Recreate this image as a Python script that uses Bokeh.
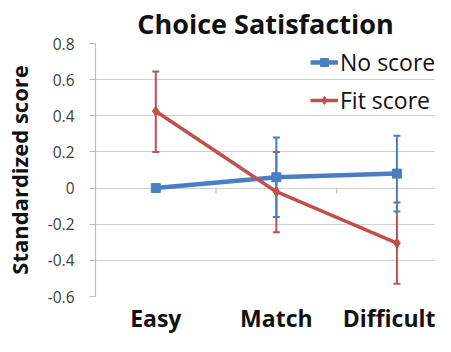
from bokeh.plotting import figure
from bokeh.models import Range1d, FixedTicker, Legend, LegendItem
from bokeh.embed import file_html
from bokeh.resources import INLINE

categories = ["Easy", "Match", "Difficult"]
no_score = [0.0, 0.06, 0.08]
no_score_hi = [0.0, 0.28, 0.29]
no_score_lo = [0.0, -0.16, -0.13]
fit_score = [0.425, -0.02, -0.305]
fit_score_hi = [0.645, 0.20, -0.08]
fit_score_lo = [0.20, -0.245, -0.53]
y_ticks = [-0.6, -0.4, -0.2, 0, 0.2, 0.4, 0.6, 0.8]

BLUE = "#4A7EC2"
RED = "#C0504D"
FONT = "Open Sans"

xs = [i + 0.5 for i in range(len(categories))]

p = figure(width=435, height=336, output_backend="svg", toolbar_location=None,
           x_range=Range1d(0, 2.82), y_range=Range1d(-0.6, 0.8),
           min_border_left=0, min_border_right=0, min_border_top=0, min_border_bottom=0)

p.title.text = "Choice Satisfaction"
p.title.align = "center"
p.title.text_font = FONT
p.title.text_font_size = "27px"
p.title.text_font_style = "bold"
p.title.text_color = "#111111"
p.title.text_line_height = 0.8
p.title.standoff = 4

p.outline_line_color = None
p.xgrid.grid_line_color = None
p.ygrid.grid_line_color = "#D0D0D0"
p.ygrid.grid_line_width = 1.2

p.yaxis.ticker = FixedTicker(ticks=y_ticks)
p.yaxis.major_label_overrides = {t: ("0" if t == 0 else f"{t:.1f}") for t in y_ticks}
p.yaxis.axis_line_color = "#BDBDBD"
p.yaxis.axis_line_width = 1.2
p.yaxis.major_tick_in = 0
p.yaxis.major_tick_out = 6
p.yaxis.major_tick_line_color = "#BDBDBD"
p.yaxis.minor_tick_line_color = None
p.yaxis.major_label_text_font = FONT
p.yaxis.major_label_text_font_size = "15.5px"
p.yaxis.major_label_text_color = "#404040"
p.yaxis.major_label_standoff = 15
p.yaxis.axis_label = "Standardized score"
p.yaxis.axis_label_text_font = FONT
p.yaxis.axis_label_text_font_size = "22px"
p.yaxis.axis_label_text_font_style = "bold"
p.yaxis.axis_label_text_color = "#111111"
p.yaxis.axis_label_standoff = 11

p.xaxis.ticker = FixedTicker(ticks=xs)
p.xaxis.major_label_overrides = {x: c for x, c in zip(xs, categories)}
p.xaxis.axis_label = None
p.xaxis.axis_line_color = None
p.xaxis.major_tick_line_color = None
p.xaxis.major_tick_out = 0
p.xaxis.major_tick_in = 0
p.xaxis.minor_tick_line_color = None
p.xaxis.major_label_text_font = FONT
p.xaxis.major_label_text_font_size = "23px"
p.xaxis.major_label_text_font_style = "bold"
p.xaxis.major_label_text_color = "#111111"
p.xaxis.major_label_standoff = 5

# category boundary ticks on the zero line
bx = [float(i) for i in range(1, len(categories))]
p.segment(x0=bx, x1=bx, y0=[0] * len(bx), y1=[-0.03] * len(bx), line_color="#BDBDBD", line_width=1.2)

# error bars
for vals_hi, vals_lo, col in [(fit_score_hi, fit_score_lo, RED), (no_score_hi, no_score_lo, BLUE)]:
    p.segment(x0=xs, x1=xs, y0=vals_lo, y1=vals_hi, line_color=col, line_width=2)
    p.scatter(x=xs, y=vals_hi, marker="dash", size=7, line_color=col, line_width=2)
    p.scatter(x=xs, y=vals_lo, marker="dash", size=7, line_color=col, line_width=2)

l1 = p.line(xs, no_score, line_color=BLUE, line_width=4.5)
m1 = p.scatter(xs, no_score, marker="square", size=9, fill_color=BLUE, line_color=BLUE)
l2 = p.line(xs, fit_score, line_color=RED, line_width=3.5)
m2 = p.scatter(xs, fit_score, marker="diamond", size=10, fill_color=RED, line_color=RED)

legend = Legend(items=[LegendItem(label="No score", renderers=[l1, m1]),
                       LegendItem(label="Fit score", renderers=[l2, m2])],
                location=(215, 180))
legend.background_fill_alpha = 0
legend.border_line_color = None
legend.label_text_font = FONT
legend.label_text_font_size = "23px"
legend.label_text_color = "#111111"
legend.glyph_width = 28
legend.label_standoff = 2
legend.spacing = 6
legend.margin = 0
legend.padding = 4
p.add_layout(legend)

open("out.html", "w").write(file_html(p, INLINE))
